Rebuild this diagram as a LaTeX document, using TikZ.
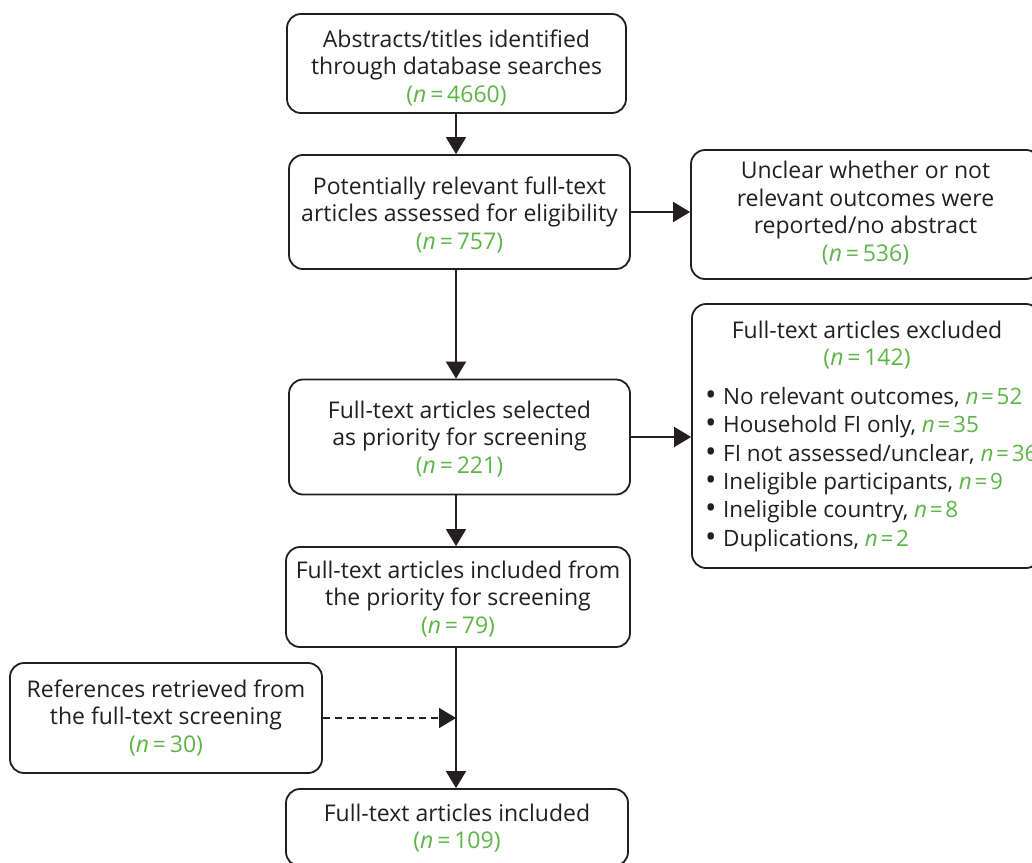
\documentclass[tikz,border=0pt]{standalone}
\usepackage{fontspec}
\setmainfont{Open Sans}
\usetikzlibrary{arrows.meta}
\definecolor{txt}{HTML}{231F20}
\definecolor{grn}{HTML}{5DB548}
\newcommand{\nn}[1]{\textcolor{grn}{(\textit{n}\,=\,#1)}}
\newcommand{\nv}[1]{\textcolor{grn}{\textit{n}\hspace{0.12em}=\hspace{0.12em}#1}}
\newcommand{\bl}{\makebox[18pt][l]{\raisebox{-1pt}{\scalebox{1.35}{\textbullet}}}}
\begin{document}
\begin{tikzpicture}[x=1pt,y=-1pt,
  font=\fontsize{23}{27.5}\selectfont,
  box/.style={draw=txt, line width=1.8pt, rounded corners=14pt, inner sep=0pt},
  lbl/.style={text=txt, inner sep=0pt, align=center},
  arr/.style={line width=1.8pt, draw=txt, -{Triangle[length=17pt,width=20pt]}}]
\useasboundingbox (0,0) rectangle (1032,862);
\node[box, minimum width=339pt, minimum height=99pt] (A) at (456.5,63.5) {};
\node[lbl] (At) at (456.5,68) {Abstracts/titles identified\\through database searches\\\nn{4660}};
\node[box, minimum width=341pt, minimum height=114pt] (B) at (459.5,212) {};
\node[lbl] (Bt) at (459.5,215) {Potentially relevant full-text\\articles assessed for eligibility\\\nn{757}};
\node[box, minimum width=349pt, minimum height=129pt] (C) at (865.5,214.5) {};
\node[lbl] (Ct) at (865.5,213) {Unclear whether or not\\relevant outcomes were\\reported/no abstract\\\nn{536}};
\node[box, minimum width=341pt, minimum height=115pt] (D) at (459.5,437) {};
\node[lbl] (Dt) at (459.5,439) {Full-text articles selected\\as priority for screening\\\nn{221}};
\node[box, minimum width=348pt, minimum height=264pt] (E) at (866,436) {};
\node[lbl] (Eh) at (867,345) {Full-text articles excluded\\\nn{142}};
\node[lbl, align=left, anchor=north west, font=\fontsize{22.5}{28.4}\selectfont] (El) at (705,387)
  {\bl No relevant outcomes, \nv{52}\\
   \bl Household FI only, \nv{35}\\
   \bl FI not assessed/unclear, \nv{36}\\
   \bl Ineligible participants, \nv{9}\\
   \bl Ineligible country, \nv{8}\\
   \bl Duplications, \nv{2}};
\node[box, minimum width=344pt, minimum height=100pt] (F) at (458,597) {};
\node[lbl] (Ft) at (458,599) {Full-text articles included from\\the priority for screening\\\nn{79}};
\node[box, minimum width=312pt, minimum height=110pt] (G) at (166,718) {};
\node[lbl] (Gt) at (166,718) {References retrieved from\\the full-text screening\\\nn{30}};
\node[box, minimum width=342pt, minimum height=77pt] (H) at (457,827.5) {};
\node[lbl] (Ht) at (457,828) {Full-text articles included\\\nn{109}};
\coordinate (J) at (456,718);
\draw[arr] (A.south -| J) -- (B.north -| J);
\draw[arr] (B.south -| J) -- (D.north -| J);
\draw[arr] (D.south -| J) -- (F.north -| J);
\draw[arr] (F.south -| J) -- (H.north -| J);
\draw[arr] (B.east) -- (C.west |- B.east);
\draw[arr] (D.east) -- (E.west |- D.east);
\draw[arr, dash pattern=on 7pt off 5pt] (G.east) -- (J);
\end{tikzpicture}
\end{document}
